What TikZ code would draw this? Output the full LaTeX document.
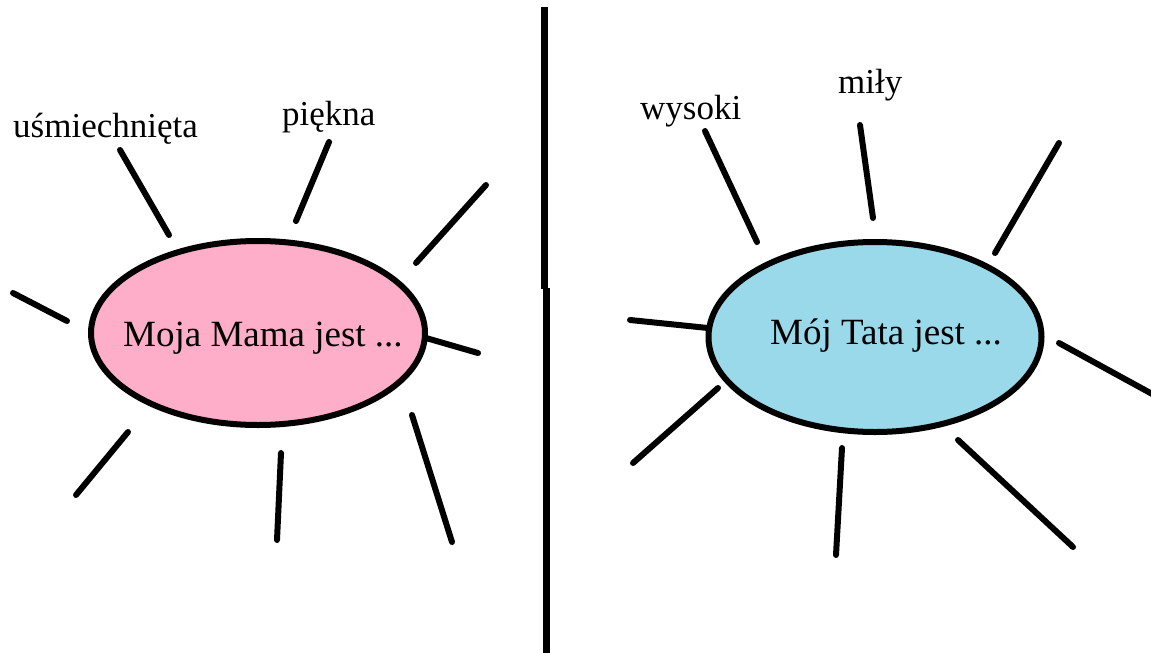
\documentclass[tikz,border=0pt]{standalone}
\usepackage{fontspec}
\setmainfont{Liberation Serif}
\usetikzlibrary{shapes.geometric}
\definecolor{rose}{RGB}{255,174,201}
\definecolor{turq}{RGB}{153,217,234}
\begin{document}
\begin{tikzpicture}[x=1pt,y=-1pt,
  ray/.style={line width=6pt,line cap=round},
  bubble/.style={ellipse,draw,line width=6pt,inner sep=0pt},
  word/.style={anchor=base west,inner sep=0pt,font=\fontsize{35}{40}\selectfont},
  big/.style={anchor=base west,inner sep=0pt,font=\fontsize{37}{42}\selectfont}]
\useasboundingbox (0,0) rectangle (1151,653);
\fill[white] (0,0) rectangle (1151,653);
% divider
\coordinate (d1) at (544,7);
\coordinate (d2) at (544,289);
\coordinate (d3) at (546,288);
\coordinate (d4) at (546,660);
\draw[line width=7pt] (d1) -- (d2);
\draw[line width=7pt] (d3) -- (d4);
% left rays
\foreach \n/\ax/\ay/\bx/\by in {
  1/120/150/169/235, 2/329/142/296/221, 3/486/185/416/263, 4/13/293/67/321,
  5/426/338/478/353, 6/128/432/76/495, 7/281/453/277/540, 8/412/415/452/542}{
  \coordinate (la\n) at (\ax,\ay);
  \coordinate (lb\n) at (\bx,\by);
  \draw[ray] (la\n) -- (lb\n);
}
% right rays
\foreach \n/\ax/\ay/\bx/\by in {
  1/705/131/757/242, 2/860/125/873/218, 3/1059/143/995/253, 4/630/320/708/328,
  5/1059/343/1165/401, 6/718/388/633/463, 7/842/448/836/555, 8/958/440/1073/547}{
  \coordinate (ra\n) at (\ax,\ay);
  \coordinate (rb\n) at (\bx,\by);
  \draw[ray] (ra\n) -- (rb\n);
}
% ellipses
\node[bubble,fill=rose,minimum width=334pt,minimum height=184pt] (mamaE) at (258,333) {};
\node[bubble,fill=turq,minimum width=333pt,minimum height=190pt] (tataE) at (875,337) {};
% texts
\node[word] (usm) at (13,137) {uśmiechnięta};
\node[word] (piek) at (282,125) {piękna};
\node[word] (wys) at (640,119) {wysoki};
\node[word] (mily) at (838,93) {miły};
\node[big] (mama) at (123,346) {Moja Mama jest ...};
\node[big] (tata) at (770,344) {Mój Tata jest ...};
\end{tikzpicture}
\end{document}
